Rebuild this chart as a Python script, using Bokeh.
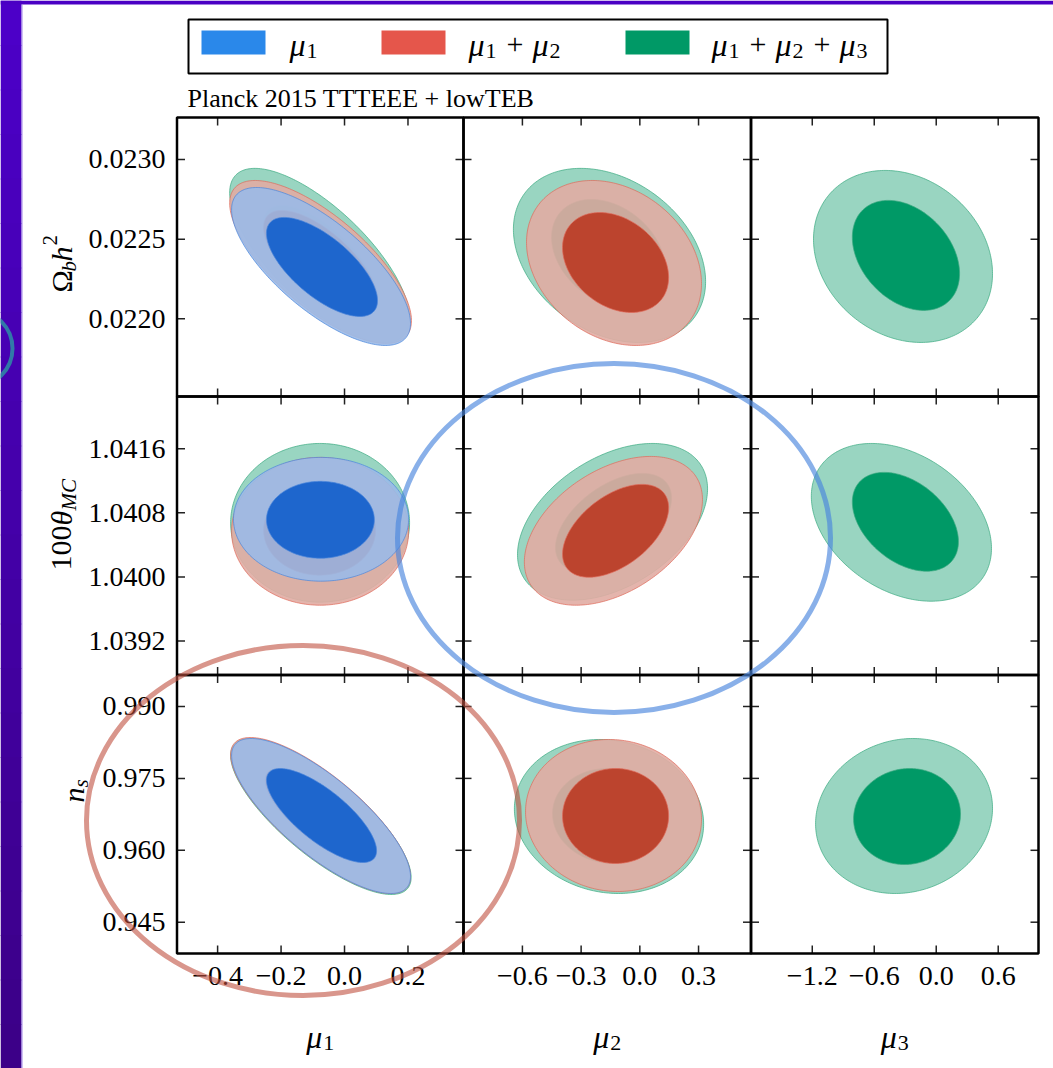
import numpy as np
from bokeh.plotting import figure
from bokeh.models import Range1d
from bokeh.embed import file_html
from bokeh.resources import INLINE
from bokeh.core.properties import value

W, H = 1053, 1068

# ---------------- data ----------------
series_labels = ["μ1", "μ1 + μ2", "μ1 + μ2 + μ3"]
x_names = ["μ1", "μ2", "μ3"]
y_names = ["Ωb h2", "100θMC", "ns"]
x_limits = [(-0.528, 0.375), (-0.901, 0.568), (-1.793, 0.990)]
y_limits = [(0.021513, 0.023263), (1.038776, 1.042252), (0.93847, 0.99657)]
x_ticks = [[-0.4, -0.2, 0.0, 0.2], [-0.6, -0.3, 0.0, 0.3], [-1.2, -0.6, 0.0, 0.6]]
x_tick_labels = [["−0.4", "−0.2", "0.0", "0.2"], ["−0.6", "−0.3", "0.0", "0.3"],
                 ["−1.2", "−0.6", "0.0", "0.6"]]
y_ticks = [[0.0220, 0.0225, 0.0230], [1.0392, 1.0400, 1.0408, 1.0416],
           [0.945, 0.960, 0.975, 0.990]]
y_tick_labels = [["0.0220", "0.0225", "0.0230"], ["1.0392", "1.0400", "1.0408", "1.0416"],
                 ["0.945", "0.960", "0.975", "0.990"]]

# contour regions (series: 0 = mu1, 1 = mu1+mu2, 2 = mu1+mu2+mu3;
# level: 0 = 95% outer, 1 = 68% inner); extents in data units plus correlation
c_row    = [0, 0, 0, 0, 0, 0,   0, 0, 0, 0,   0, 0,
            1, 1, 1, 1, 1, 1,   1, 1, 1, 1,   1, 1,
            2, 2, 2, 2, 2, 2,   2, 2, 2, 2,   2, 2]
c_col    = [0, 0, 0, 0, 0, 0,   1, 1, 1, 1,   2, 2,
            0, 0, 0, 0, 0, 0,   1, 1, 1, 1,   2, 2,
            0, 0, 0, 0, 0, 0,   1, 1, 1, 1,   2, 2]
c_series = [2, 2, 1, 1, 0, 0,   2, 2, 1, 1,   2, 2,
            2, 2, 1, 1, 0, 0,   2, 2, 1, 1,   2, 2,
            2, 2, 1, 1, 0, 0,   2, 2, 1, 1,   2, 2]
c_level  = [0, 1, 0, 1, 0, 1,   0, 1, 0, 1,   0, 1,
            0, 1, 0, 1, 0, 1,   0, 1, 0, 1,   0, 1,
            0, 1, 0, 1, 0, 1,   0, 1, 0, 1,   0, 1]
c_xlo = [-0.362, -0.255, -0.362, -0.255, -0.356, -0.246,  -0.646, -0.451, -0.579, -0.395,  -1.188, -0.812,
         -0.359, -0.255, -0.356, -0.255, -0.350, -0.246,  -0.625, -0.431, -0.590, -0.395,  -1.209, -0.812,
         -0.359, -0.250, -0.359, -0.250, -0.356, -0.246,  -0.641, -0.446, -0.584, -0.395,  -1.168, -0.800]
c_xhi = [0.205, 0.104, 0.211, 0.104, 0.208, 0.104,   0.336, 0.131, 0.315, 0.147,   0.545, 0.226,
         0.205, 0.098, 0.202, 0.098, 0.202, 0.094,   0.346, 0.162, 0.320, 0.147,   0.535, 0.215,
         0.210, 0.101, 0.208, 0.101, 0.208, 0.101,   0.326, 0.142, 0.315, 0.147,   0.545, 0.235]
c_ylo = [0.021852, 0.022030, 0.021846, 0.022015, 0.021833, 0.022015,
         0.021852, 0.022071, 0.021833, 0.022040,
         0.021852, 0.022053,
         1.039685, 1.040022, 1.039647, 1.040022, 1.039947, 1.040233,
         1.039710, 1.040059, 1.039647, 1.039996,
         1.039697, 1.040071,
         0.950780, 0.957455, 0.950988, 0.957455, 0.950988, 0.957455,
         0.950988, 0.957247, 0.951406, 0.957247,
         0.950988, 0.957038]
c_yhi = [0.022944, 0.022710, 0.022868, 0.022680, 0.022824, 0.022636,
         0.022944, 0.022749, 0.022868, 0.022667,
         0.022931, 0.022743,
         1.041666, 1.041143, 1.041492, 1.041143, 1.041492, 1.041193,
         1.041666, 1.041292, 1.041504, 1.041155,
         1.041666, 1.041305,
         0.983324, 0.977066, 0.983533, 0.977066, 0.983324, 0.977066,
         0.983116, 0.977066, 0.983116, 0.977066,
         0.983324, 0.977066]
c_rho = [-0.72, -0.68, -0.72, -0.68, -0.72, -0.68,   -0.30, -0.30, -0.25, -0.30,   -0.20, -0.33,
         0.0, 0.0, 0.0, 0.0, 0.0, 0.0,                 0.42, 0.50, 0.42, 0.50,       -0.33, -0.40,
         -0.78, -0.75, -0.78, -0.75, -0.78, -0.75,    -0.10, -0.05, -0.05, 0.0,      0.10, 0.05]

# ---------------- styles / layout ----------------
SERIF = value("Liberation Serif")
swatch_colors = ["#2a88ea", "#e5564b", "#009966"]
outer_fill = ["#9abae8", "#e1aca3", "#8ed0ba"]
inner_fill = ["#1e66cd", "#bc442e", "#009966"]
edge_col = ["#4a86dc", "#e06a5a", "#3aaa80"]

col_L = [176.5, 463.0, 750.5]
col_R = [463.0, 750.5, 1038.0]
row_T = [117.0, 396.0, 674.5]
row_B = [396.0, 674.5, 953.0]

p = figure(width=W, height=H, x_range=Range1d(0, W), y_range=Range1d(H, 0),
           min_border=0, toolbar_location=None, output_backend="svg",
           x_axis_type=None, y_axis_type=None, outline_line_color=None,
           background_fill_color="white", border_fill_color="white")
p.xgrid.visible = False
p.ygrid.visible = False

for j in range(3):
    L, R = col_L[j], col_R[j]
    x0, x1 = x_limits[j]
    s = (x1 - x0) / (R - L)
    p.extra_x_ranges[f"x{j}"] = Range1d(x0 - L * s, x0 + (W - L) * s)
for i in range(3):
    T, B = row_T[i], row_B[i]
    y0, y1 = y_limits[i]
    s = (y1 - y0) / (B - T)
    p.extra_y_ranges[f"y{i}"] = Range1d(y1 - (H - T) * s, y1 + T * s)

# purple page edge
n_band = 24
for k in range(n_band):
    f = k / (n_band - 1)
    col = "#%02x%02x%02x" % (int(76 - 16 * f), 0, int(200 - 64 * f))
    p.quad(left=0, right=21, top=k * H / n_band, bottom=(k + 1) * H / n_band + 1,
           fill_color=col, line_color=None)
p.quad(left=0, right=W, top=0, bottom=4, fill_color="#4a00c4", line_color=None)
p.segment(x0=[21.5], y0=[4], x1=[21.5], y1=[H], line_color="#9f84e6", line_width=1)

# contours
t = np.linspace(0, 2 * np.pi, 240)
for k in range(len(c_row)):
    i, j, sr, lv = c_row[k], c_col[k], c_series[k], c_level[k]
    cx = 0.5 * (c_xlo[k] + c_xhi[k]); hx = 0.5 * (c_xhi[k] - c_xlo[k])
    cy = 0.5 * (c_ylo[k] + c_yhi[k]); hy = 0.5 * (c_yhi[k] - c_ylo[k])
    r = c_rho[k]
    xs = cx + hx * np.cos(t)
    ys = cy + hy * (r * np.cos(t) + np.sqrt(1 - r * r) * np.sin(t))
    fill = outer_fill[sr] if lv == 0 else inner_fill[sr]
    alpha = 0.9 if lv == 0 else 1.0
    p.patch(xs, ys, x_range_name=f"x{j}", y_range_name=f"y{i}",
            fill_color=fill, fill_alpha=alpha, line_color=edge_col[sr],
            line_width=1, line_alpha=0.7)

# panel frames and ticks
TL = 8
for i in range(3):
    for j in range(3):
        L, R, T, B = col_L[j], col_R[j], row_T[i], row_B[i]
        xt = x_ticks[j]; n = len(xt)
        p.segment(x0=xt, y0=[T] * n, x1=xt, y1=[T + TL] * n, x_range_name=f"x{j}",
                  line_color="#222222", line_width=1.5)
        p.segment(x0=xt, y0=[B] * n, x1=xt, y1=[B - TL] * n, x_range_name=f"x{j}",
                  line_color="#222222", line_width=1.5)
        yt = y_ticks[i]; m = len(yt)
        p.segment(x0=[L] * m, y0=yt, x1=[L + TL] * m, y1=yt, y_range_name=f"y{i}",
                  line_color="#222222", line_width=1.5)
        p.segment(x0=[R] * m, y0=yt, x1=[R - TL] * m, y1=yt, y_range_name=f"y{i}",
                  line_color="#222222", line_width=1.5)
        p.quad(left=L, right=R, top=T, bottom=B, fill_color=None,
               line_color="black", line_width=2.5)

# tick labels
for j in range(3):
    n = len(x_ticks[j])
    p.text(x=x_ticks[j], y=[975] * n, text=x_tick_labels[j], x_range_name=f"x{j}",
           text_align="center", text_baseline="middle", text_font=SERIF,
           text_font_size="28px", text_color="black")
for i in range(3):
    m = len(y_ticks[i])
    p.text(x=[165] * m, y=y_ticks[i], text=y_tick_labels[i], y_range_name=f"y{i}",
           text_align="right", text_baseline="middle", text_font=SERIF,
           text_font_size="28px", text_color="black")


def mtext(x, y, pieces, angle=0.0):
    for (tx, dx, dy, size, style) in pieces:
        if angle == 0.0:
            px, py = x + dx, y + dy
        else:
            px, py = x + dy, y - dx
        p.text(x=[px], y=[py], text=[tx], angle=angle, text_font=SERIF,
               text_font_size=f"{size}px", text_font_style=style,
               text_baseline="alphabetic", text_align="left", text_color="black")


def mu_piece(dx, sub):
    return [("μ", dx, 0, 32, "italic"), (sub, dx + 17, 6, 22, "normal")]


# axis labels (bottom)
for j, sub in enumerate(["1", "2", "3"]):
    cxp = 0.5 * (col_L[j] + col_R[j]) - 14
    mtext(cxp, 1036, mu_piece(0, sub))
# axis labels (left, rotated)
mtext(61, 292, [("Ω", 0, 0, 30, "normal"), ("b", 21, 7, 21, "italic"),
                ("h", 31, 0, 30, "italic"), ("2", 47, -12, 21, "normal")], angle=np.pi / 2)
mtext(61, 570, [("100", 0, 0, 30, "normal"), ("θ", 45, 0, 30, "italic"),
                ("MC", 60, 7, 21, "italic")], angle=np.pi / 2)
mtext(73, 802, [("n", 0, 0, 30, "italic"), ("s", 15, 7, 21, "italic")], angle=np.pi / 2)

# legend
p.quad(left=188, right=887, top=19, bottom=73, fill_color="white",
       line_color="black", line_width=2)
sw_left = [201, 381, 625]
for s_i in range(3):
    p.quad(left=sw_left[s_i], right=sw_left[s_i] + 64, top=30, bottom=54,
           fill_color=swatch_colors[s_i], line_color=None)
LB = 44
mtext(289, LB, mu_piece(0, "1"))
mtext(468, LB, mu_piece(0, "1") + [("+", 38, 0, 30, "normal")] + mu_piece(64, "2"))
mtext(711, LB, mu_piece(0, "1") + [("+", 38, 0, 30, "normal")] + mu_piece(64, "2")
      + [("+", 102, 0, 30, "normal")] + mu_piece(128, "3"))

p.text(x=[187], y=[98], text=["Planck 2015 TTTEEE + lowTEB"], text_font=SERIF,
       text_font_size="26px", text_baseline="middle", text_align="left", text_color="black")

# annotation circles
p.ellipse(x=[613.5], y=[537.5], width=433, height=349, fill_color=None,
          line_color="#4a86dd", line_alpha=0.65, line_width=5)
p.ellipse(x=[302.5], y=[820], width=433, height=350, fill_color=None,
          line_color="#c0503f", line_alpha=0.6, line_width=5)
p.ellipse(x=[-26], y=[348], width=76, height=76, fill_color=None,
          line_color="#2f86a6", line_alpha=0.9, line_width=4)

open("out.html", "w").write(file_html(p, INLINE))
